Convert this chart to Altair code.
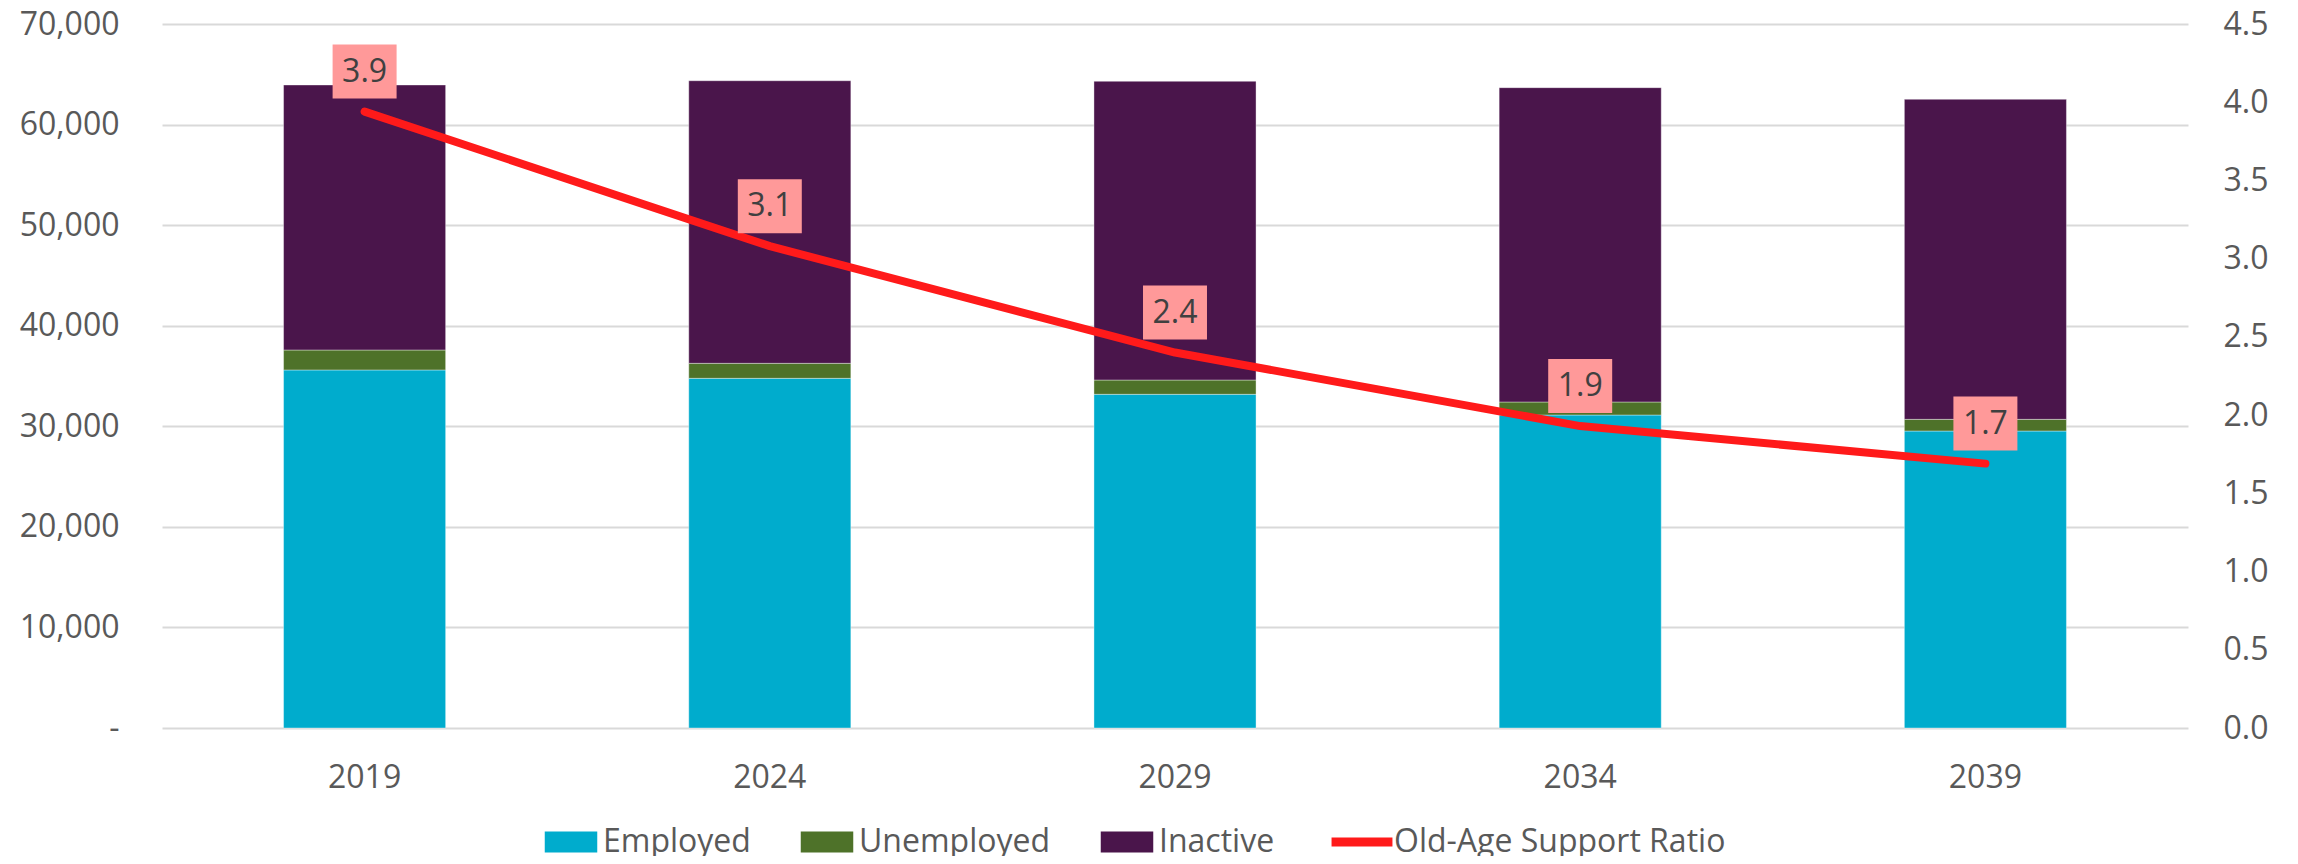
import altair as alt
import pandas as pd

years = ["2019", "2024", "2029", "2034", "2039"]
employed = [35600, 34770, 33180, 31120, 29530]
unemployed = [1985, 1490, 1420, 1295, 1160]
inactive = [26350, 28100, 29700, 31255, 31820]
ratio = [3.94, 3.08, 2.40, 1.93, 1.69]

bar_series = ["Employed", "Unemployed", "Inactive"]
bar_colors = ["#00ACCD", "#4E7229", "#4A154B"]
line_series = "Old-Age Support Ratio"
line_color = "#FF1A1A"
label_fill = "#FF9999"

FONT = "Open Sans"
AXIS_COLOR = "#595959"

rows = []
for i, y in enumerate(years):
    for k, (name, vals) in enumerate(zip(bar_series, [employed, unemployed, inactive])):
        rows.append({"year": y, "series": name, "value": vals[i], "idx": k})
bar_df = pd.DataFrame(rows)
line_df = pd.DataFrame({"year": years, "ratio": ratio, "series": [line_series] * len(years)})

x_enc = alt.X(
    "year:N",
    sort=years,
    scale=alt.Scale(paddingInner=0.6, paddingOuter=0.3),
    axis=alt.Axis(
        title=None, labelAngle=0, ticks=False, domain=False, grid=False,
        labelFont=FONT, labelFontSize=32, labelColor=AXIS_COLOR, labelPadding=34,
    ),
)

bars = alt.Chart(bar_df).mark_bar(
    stroke="#FFFFFF", strokeWidth=0.75, strokeOpacity=0.5
).encode(
    x=x_enc,
    y=alt.Y(
        "value:Q",
        stack="zero",
        scale=alt.Scale(domain=[0, 70000], nice=False),
        axis=alt.Axis(
            title=None, values=list(range(0, 70001, 10000)), ticks=False, domain=False,
            grid=True, gridColor="#D9D9D9", gridWidth=2,
            labelFont=FONT, labelFontSize=32, labelColor=AXIS_COLOR, labelPadding=43,
            labelExpr="datum.value === 0 ? '-\u00a0\u00a0' : format(datum.value, ',')",
        ),
    ),
    color=alt.Color(
        "series:N",
        scale=alt.Scale(domain=bar_series, range=bar_colors),
        legend=alt.Legend(
            title=None, orient="none", legendX=393, legendY=802, direction="horizontal",
            padding=0, symbolType="M-2.5,-1H2.5V1H-2.5Z", symbolSize=441,
            symbolStrokeWidth=0, symbolOpacity=1, labelOffset=16, columnPadding=49,
            labelFont=FONT, labelFontSize=32, labelColor=AXIS_COLOR, labelLimit=1000,
        ),
    ),
    order=alt.Order("idx:Q", sort="ascending"),
)

y_right = alt.Scale(domain=[0, 4.5], nice=False)
right_axis = alt.Axis(
    title=None, orient="right", values=[i * 0.5 for i in range(10)], format=".1f",
    ticks=False, domain=False, grid=False,
    labelFont=FONT, labelFontSize=32, labelColor=AXIS_COLOR, labelPadding=35,
)

line = alt.Chart(line_df).mark_line(
    strokeWidth=8, strokeCap="round", strokeJoin="round"
).encode(
    x=x_enc,
    y=alt.Y("ratio:Q", scale=y_right, axis=right_axis),
    stroke=alt.Stroke(
        "series:N",
        scale=alt.Scale(domain=[line_series], range=[line_color]),
        legend=alt.Legend(
            title=None, orient="none", legendX=1184, legendY=802, direction="horizontal",
            padding=0, symbolType="M-2.9,0H2.9", symbolSize=441, symbolStrokeWidth=9,
            symbolOpacity=1, labelOffset=16,
            labelFont=FONT, labelFontSize=32, labelColor=AXIS_COLOR, labelLimit=1000,
        ),
    ),
)

boxes = alt.Chart(line_df).mark_point(
    shape="M-1.185,-1H1.185V1H-1.185Z", size=2916, filled=True,
    fill=label_fill, opacity=1, strokeWidth=0, yOffset=-40,
).encode(
    x=x_enc,
    y=alt.Y("ratio:Q", scale=y_right, axis=right_axis),
)

texts = alt.Chart(line_df).mark_text(
    font=FONT, fontSize=32, color="#404040", dy=-40, baseline="middle", align="center",
).encode(
    x=x_enc,
    y=alt.Y("ratio:Q", scale=y_right, axis=right_axis),
    text=alt.Text("ratio:Q", format=".1f"),
)

right_layer = alt.layer(line, boxes, texts)

chart = alt.layer(bars, right_layer).resolve_scale(
    y="independent"
).properties(
    width=2026,
    height=704,
    autosize=alt.AutoSizeParams(type="none"),
    padding={"left": 154, "top": 16, "right": 102, "bottom": 128},
    background="white",
).configure_view(stroke=None)

chart.save("out.html", embed_options={"renderer": "svg", "actions": False})
